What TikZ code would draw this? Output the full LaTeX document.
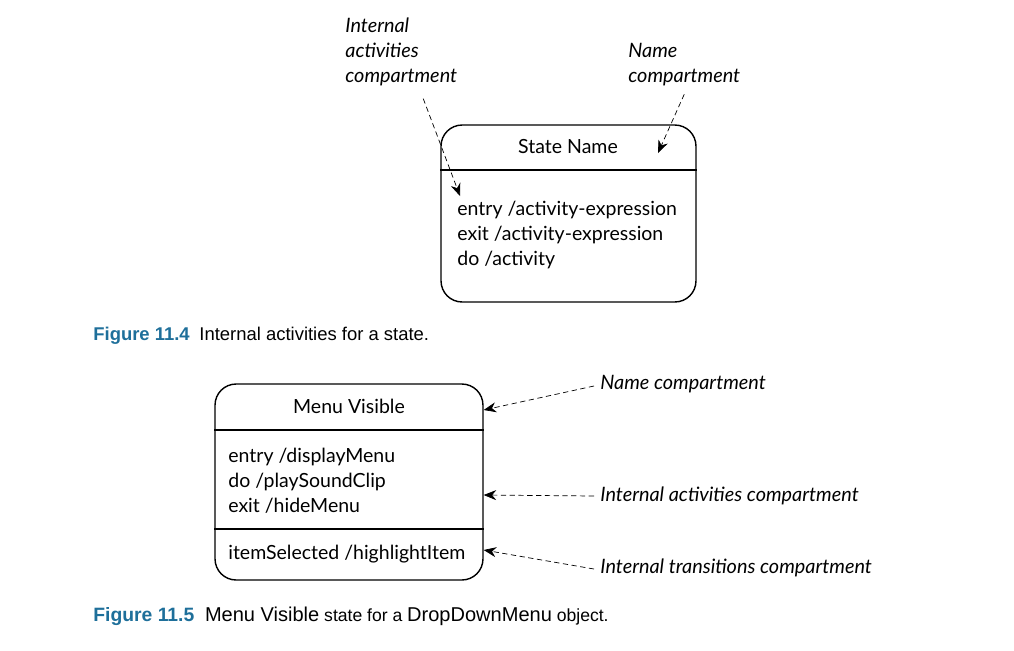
\documentclass[tikz,border=0pt]{standalone}
\usepackage{fontspec}
\setmainfont{Lato}
\newfontfamily\capfont{Liberation Sans}
\usepackage{xcolor}
\definecolor{figblue}{HTML}{1E6F9A}
\usetikzlibrary{arrows.meta, calc}

\begin{document}
\begin{tikzpicture}[x=0.02cm, y=-0.02cm, >={Stealth[length=2.5mm, width=2mm]},
  every node/.style={font=\fontsize{11.1}{14.2}\selectfont, inner sep=0pt},
  note/.style={font=\fontsize{11.3}{14.2}\selectfont\itshape, align=left},
  call/.style={->, dash pattern=on 3pt off 2pt, thin},
  statebox/.style={draw, thick, rounded corners=12pt}]
  \useasboundingbox (0,0) rectangle (1014,650);
  % figure 11.4
  \node[statebox, minimum width=5.1cm, minimum height=3.54cm] (stateName) at (568.5,213.5) {};
  \draw[thick] (stateName.west |- 0,170) -- (stateName.east |- 0,170);
  \node (nameText) at (568,147) {State Name};
  \node[anchor=north west, align=left] (actText) at (457,201) {entry /activity-expression\\exit /activity-expression\\do /activity};
  \node[note, anchor=north west] (actNote) at (345,18) {Internal\\activities\\compartment};
  \node[note, anchor=north west] (nameNote) at (628,43) {Name\\compartment};
  \coordinate (actTip) at (460,196);
  \coordinate (nameTip) at (658,153);
  \draw[call] ($(actNote.south)+(22,12)$) -- (actTip);
  \draw[call] ($(nameNote.south)+(0,8)$) -- (nameTip);
  \node[anchor=base west, font=\capfont\bfseries\fontsize{10.5}{12}\selectfont, text=figblue] (fig4) at (93,340) {Figure 11.4};
  \node[anchor=base west, font=\capfont\fontsize{10.5}{12}\selectfont] at ($(fig4.base east)+(9,0)$) {Internal activities for a state.};
  % figure 11.5
  \node[statebox, minimum width=5.36cm, minimum height=3.92cm] (menuVisible) at (349,482) {};
  \draw[thick] (menuVisible.west |- 0,430) -- (menuVisible.east |- 0,430);
  \draw[thick] (menuVisible.west |- 0,529) -- (menuVisible.east |- 0,529);
  \node (menuText) at (349,406) {Menu Visible};
  \node[anchor=north west, align=left] (menuAct) at (228,448) {entry /displayMenu\\do /playSoundClip\\exit /hideMenu};
  \node[anchor=west] (menuTrans) at (228,554) {itemSelected /highlightItem};
  \node[note, anchor=west] (nameNote2) at (600,384) {Name compartment};
  \node[note, anchor=west] (actNote2) at (600,496) {Internal activities compartment};
  \node[note, anchor=west] (transNote2) at (600,568) {Internal transitions compartment};
  \draw[call] ($(nameNote2.west)+(-6,2)$) -- (menuVisible.east |- 0,410);
  \draw[call] ($(actNote2.west)+(-6,0)$) -- (menuVisible.east |- 0,495);
  \draw[call] ($(transNote2.west)+(-6,1)$) -- (menuVisible.east |- 0,550);
  \node[anchor=base west, font=\capfont\bfseries\fontsize{11}{12}\selectfont, text=figblue] (fig5) at (93,621) {Figure 11.5};
  \node[anchor=base west, font=\capfont\fontsize{10}{12}\selectfont] at ($(fig5.base east)+(10,0)$) {{\fontsize{11.4}{12}\selectfont Menu Visible} state for a {\fontsize{11.4}{12}\selectfont DropDownMenu} object.};
\end{tikzpicture}
\end{document}
